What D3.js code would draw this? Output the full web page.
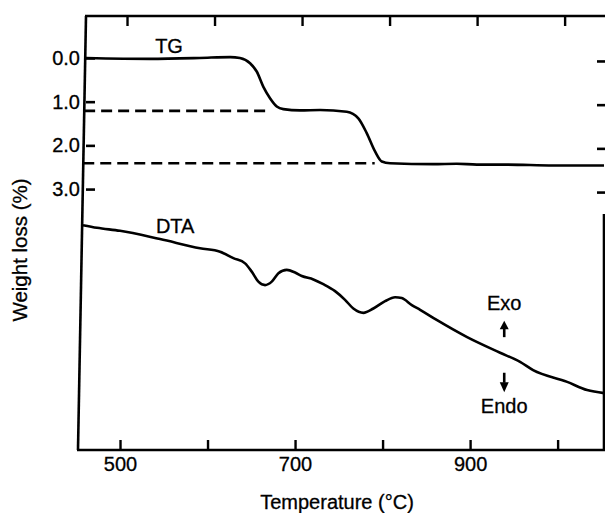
<!DOCTYPE html>
<html>
<head>
<meta charset="utf-8">
<script src="https://cdn.jsdelivr.net/npm/d3@7"></script>
<style>
  html, body { margin: 0; padding: 0; background: #fff; }
  svg { display: block; }
  text { font-family: "Liberation Sans", Arial, Helvetica, sans-serif; fill: #000; stroke: #000; stroke-width: 0.3px; }
</style>
</head>
<body>
<svg id="chart" width="605" height="513"></svg>
<script>
// ---- data ----
const tgTemp = [461, 534, 591, 626, 637, 648.6, 656.2, 663.8, 671.4, 679.1, 686.6, 705.7, 728.6, 759.1, 772.3, 781.9, 791.4, 799.1, 808.6, 857.7, 884.8, 907.7, 942, 994.9, 1053];
const tgLoss = [0.0, 0.02, 0.0, -0.02, 0.0, 0.12, 0.31, 0.66, 0.92, 1.11, 1.17, 1.20, 1.19, 1.23, 1.38, 1.72, 2.14, 2.37, 2.41, 2.43, 2.42, 2.44, 2.44, 2.46, 2.46];

const dtaTemp = [457.7, 473.7, 500, 545.7, 591.4, 614.3, 629.5, 642.9, 650.5, 658.1, 665.7, 673.4, 681, 690.5, 700, 707.7, 720.9, 732.3, 745.7, 757.1, 766.6, 778.1, 789.5, 802.9, 814.3, 821.9, 833.4, 842.9, 862.3, 896.6, 934.3, 957.1, 972, 1010.9, 1033.7, 1053];
const dtaSignal = [5.18, 5.12, 5.05, 4.86, 4.65, 4.57, 4.42, 4.30, 4.11, 3.88, 3.80, 3.88, 4.07, 4.15, 4.09, 4.01, 3.93, 3.82, 3.66, 3.46, 3.26, 3.16, 3.26, 3.43, 3.52, 3.50, 3.34, 3.23, 2.99, 2.60, 2.24, 2.03, 1.84, 1.57, 1.38, 1.31];

const dashLevels = [1.21, 2.41];
const dashStart = [459, 458];
const dashEnd = [669, 791];

const xTickValues = [500, 600, 700, 800, 900, 1000];
const xLabelValues = [500, 700, 900];
const yTickValues = [0, 1, 2, 3];

const seriesLabels = ["TG", "DTA"];
const xTitle = "Temperature (°C)";
const yTitle = "Weight loss (%)";

// ---- layout ----
const svg = d3.select("#chart");
const mLeft = 78, mLeftTop = 86, mRight = 604, mTop = 16, mBottom = 450;
const topTickShift = 7;

const x = d3.scaleLinear().domain([452, 1053]).range([mLeft, mRight]);
const y = d3.scaleLinear().domain([-0.96, 8.97]).range([mTop, mBottom]);
const yDTA = d3.scaleLinear().domain([0, 10]).range([mBottom, mTop]);

const frame = svg.append("g").attr("stroke", "#000").attr("stroke-width", 2.6).attr("fill", "none");
frame.append("line").attr("x1", mLeft).attr("y1", mBottom).attr("x2", mLeftTop).attr("y2", mTop);
frame.append("line").attr("x1", mLeftTop - 1).attr("y1", mTop).attr("x2", mRight + 1).attr("y2", mTop);
frame.append("line").attr("x1", mRight).attr("y1", mTop + 198).attr("x2", mRight).attr("y2", mBottom + 1);
frame.append("line").attr("x1", mLeft - 1).attr("y1", mBottom).attr("x2", mRight + 1).attr("y2", mBottom);

// bottom axis (inward ticks)
const xAxis = d3.axisBottom(x).tickValues(xTickValues).tickSize(-10).tickPadding(7)
  .tickFormat(d => xLabelValues.includes(d) ? d3.format("d")(d) : "");
const gx = svg.append("g").attr("transform", `translate(0,${mBottom})`).call(xAxis);
gx.select(".domain").remove();
gx.selectAll(".tick line").attr("stroke", "#000").attr("stroke-width", 2.4);
gx.selectAll(".tick text").attr("font-size", 20).attr("font-family", "Liberation Sans, Arial, sans-serif").attr("fill", "#000");

// top ticks (inward)
const xAxisTop = d3.axisTop(x).tickValues(xTickValues).tickSize(-10).tickFormat("");
const gxt = svg.append("g").attr("transform", `translate(${topTickShift},${mTop})`).call(xAxisTop);
gxt.select(".domain").remove();
gxt.selectAll(".tick line").attr("stroke", "#000").attr("stroke-width", 2.4);

// left axis
const yAxis = d3.axisLeft(y).tickValues(yTickValues).tickSize(-9).tickPadding(6).tickFormat(d3.format(".1f"));
const gy = svg.append("g").attr("transform", `translate(${mLeftTop},0)`).call(yAxis);
gy.select(".domain").remove();
gy.selectAll(".tick line").attr("stroke", "#000").attr("stroke-width", 2.6);
gy.selectAll(".tick text").attr("font-size", 20).attr("font-family", "Liberation Sans, Arial, sans-serif").attr("fill", "#000");

// right ticks
const yAxisR = d3.axisRight(y).tickValues(yTickValues).tickSize(-8).tickFormat("");
const gyr = svg.append("g").attr("transform", `translate(${mRight + 1},3)`).call(yAxisR);
gyr.select(".domain").remove();
gyr.selectAll(".tick line").attr("stroke", "#000").attr("stroke-width", 2.6);

// dashed reference lines
svg.append("g").selectAll("line").data(dashLevels).join("line")
  .attr("x1", (d, i) => x(dashStart[i])).attr("x2", (d, i) => x(dashEnd[i]))
  .attr("y1", d => y(d)).attr("y2", d => y(d))
  .attr("stroke", "#000").attr("stroke-width", 2.6).attr("stroke-dasharray", "11,6");

// TG curve
const tgData = tgTemp.map((t, i) => [t, tgLoss[i]]);
svg.append("path").datum(tgData)
  .attr("fill", "none").attr("stroke", "#000").attr("stroke-width", 2.6).attr("stroke-linejoin", "round")
  .attr("d", d3.line().x(d => x(d[0])).y(d => y(d[1])).curve(d3.curveMonotoneX));

// DTA curve
const dtaData = dtaTemp.map((t, i) => [t, dtaSignal[i]]);
svg.append("path").datum(dtaData)
  .attr("fill", "none").attr("stroke", "#000").attr("stroke-width", 2.6).attr("stroke-linejoin", "round")
  .attr("d", d3.line().x(d => x(d[0])).y(d => yDTA(d[1])).curve(d3.curveMonotoneX));

// series labels
svg.append("text").attr("x", x(556)).attr("y", y(-0.11)).attr("text-anchor", "middle").attr("font-size", 20).text(seriesLabels[0]);
svg.append("text").attr("x", x(563)).attr("y", yDTA(4.99)).attr("text-anchor", "middle").attr("font-size", 20).text(seriesLabels[1]);

// Exo / Endo annotation
const annX = x(939);
svg.append("text").attr("x", annX).attr("y", yDTA(3.23)).attr("text-anchor", "middle").attr("font-size", 20).text("Exo");
svg.append("text").attr("x", annX).attr("y", yDTA(0.85)).attr("text-anchor", "middle").attr("font-size", 20).text("Endo");
const arrows = svg.append("g").attr("fill", "#000").attr("stroke", "#000");
arrows.append("line").attr("x1", annX).attr("x2", annX).attr("y1", yDTA(2.8)).attr("y2", yDTA(2.6)).attr("stroke-width", 2.6);
arrows.append("path").attr("stroke", "none")
  .attr("d", `M${annX},${yDTA(2.98)} L${annX - 4.5},${yDTA(2.78)} L${annX + 4.5},${yDTA(2.78)} Z`);
arrows.append("line").attr("x1", annX).attr("x2", annX).attr("y1", yDTA(1.78)).attr("y2", yDTA(1.55)).attr("stroke-width", 2.6);
arrows.append("path").attr("stroke", "none")
  .attr("d", `M${annX},${yDTA(1.33)} L${annX - 4.5},${yDTA(1.56)} L${annX + 4.5},${yDTA(1.56)} Z`);

// axis titles
svg.append("text").attr("x", 337).attr("y", 509).attr("text-anchor", "middle").attr("font-size", 20).text(xTitle);
svg.append("text").attr("transform", "translate(27,250) rotate(-90)").attr("text-anchor", "middle").attr("font-size", 20.5).text(yTitle);
</script>
</body>
</html>
